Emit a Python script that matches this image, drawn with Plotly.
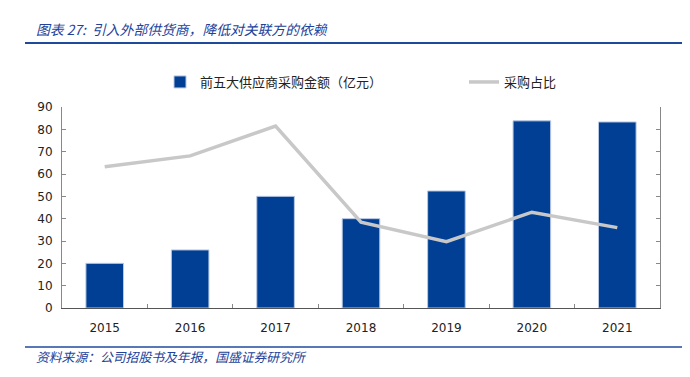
import plotly.graph_objects as go

years = ["2015", "2016", "2017", "2018", "2019", "2020", "2021"]
purchase_amount = [20, 26, 50, 40, 52.4, 83.8, 83.3]
purchase_share = [63.2, 68.1, 81.5, 38.4, 29.7, 42.9, 36.0]
y_ticks = [0, 10, 20, 30, 40, 50, 60, 70, 80, 90]

# page body has an 8px margin: figure origin sits at (8, 8) of the screenshot
OFF = 8
W, H = 690 - OFF, 377 - OFF
L, R, T, B = 62 - OFF, 660 - OFF, 107 - OFF, 308 - OFF

def cx(x):
    return (x - OFF) / W

def cy(y):
    return 1 - (y - OFF) / H

def pxx(x):
    return (x - OFF - L) / (R - L)

def pyy(y):
    return (B - (y - OFF)) / (B - T)

blue = "#003F93"
title_blue = "#22429A"

fig = go.Figure()
fig.add_trace(go.Bar(
    x=years, y=purchase_amount, name="前五大供应商采购金额（亿元）",
    marker=dict(color=blue, line=dict(color="#B8C8E4", width=1)),
    width=0.44, legend="legend",
))
fig.add_trace(go.Scatter(
    x=years, y=purchase_share, name="采购占比", mode="lines",
    line=dict(color="#C8C8C8", width=3.5), yaxis="y2", legend="legend2",
))

legend_font = dict(family="Noto Sans CJK SC", size=13, color="#222")

fig.update_layout(
    width=W, height=H,
    margin=dict(l=L, r=W - R, t=T, b=H - B, autoexpand=False),
    plot_bgcolor="white", paper_bgcolor="white",
    font=dict(family="DejaVu Sans, Noto Sans CJK SC", size=11, color="#222"),
    showlegend=True,
    legend=dict(
        orientation="h", xref="container", yref="container",
        x=cx(160), xanchor="left", y=cy(82), yanchor="middle",
        font=legend_font, bgcolor="rgba(0,0,0,0)",
    ),
    legend2=dict(
        orientation="h", xref="container", yref="container",
        x=cx(464), xanchor="left", y=cy(82), yanchor="middle",
        font=legend_font, bgcolor="rgba(0,0,0,0)",
    ),
    xaxis=dict(
        showline=True, linecolor="#555", linewidth=1,
        ticks="inside", tickson="boundaries", ticklen=4, tickcolor="#888",
        showgrid=False, tickfont=dict(size=12, color="#222"),
        ticklabelstandoff=9,
    ),
    yaxis=dict(
        range=[0, 90], tickvals=y_ticks, showline=True, linecolor="#888",
        ticks="inside", ticklen=4, tickcolor="#888", showgrid=False,
        zeroline=False, tickfont=dict(size=12, color="#222"),
        ticklabelstandoff=6,
    ),
    yaxis2=dict(
        range=[0, 90], tickvals=y_ticks, overlaying="y", side="right",
        showline=True, linecolor="#888", ticks="inside", ticklen=4,
        tickcolor="#888", showticklabels=False, showgrid=False, zeroline=False,
    ),
    shapes=[
        dict(type="line", xref="paper", yref="paper",
             x0=pxx(25), x1=pxx(690), y0=pyy(43), y1=pyy(43),
             line=dict(color="#1F4A9C", width=2)),
        dict(type="line", xref="paper", yref="paper",
             x0=pxx(25), x1=pxx(690), y0=pyy(347), y1=pyy(347),
             line=dict(color="#1F4A9C", width=1.5)),
    ],
    annotations=[
        dict(text="<i>图表 27:  引入外部供货商，降低对关联方的依赖</i>",
             xref="paper", yref="paper", x=pxx(34), y=pyy(29),
             xanchor="left", yanchor="middle", showarrow=False,
             font=dict(family="Noto Sans CJK SC", size=13.8, color=title_blue)),
        dict(text="<i>资料来源：公司招股书及年报，国盛证券研究所</i>",
             xref="paper", yref="paper", x=pxx(34), y=pyy(356),
             xanchor="left", yanchor="middle", showarrow=False,
             font=dict(family="Noto Sans CJK SC", size=12.8, color=title_blue)),
    ],
)

fig.write_html("out.html")
